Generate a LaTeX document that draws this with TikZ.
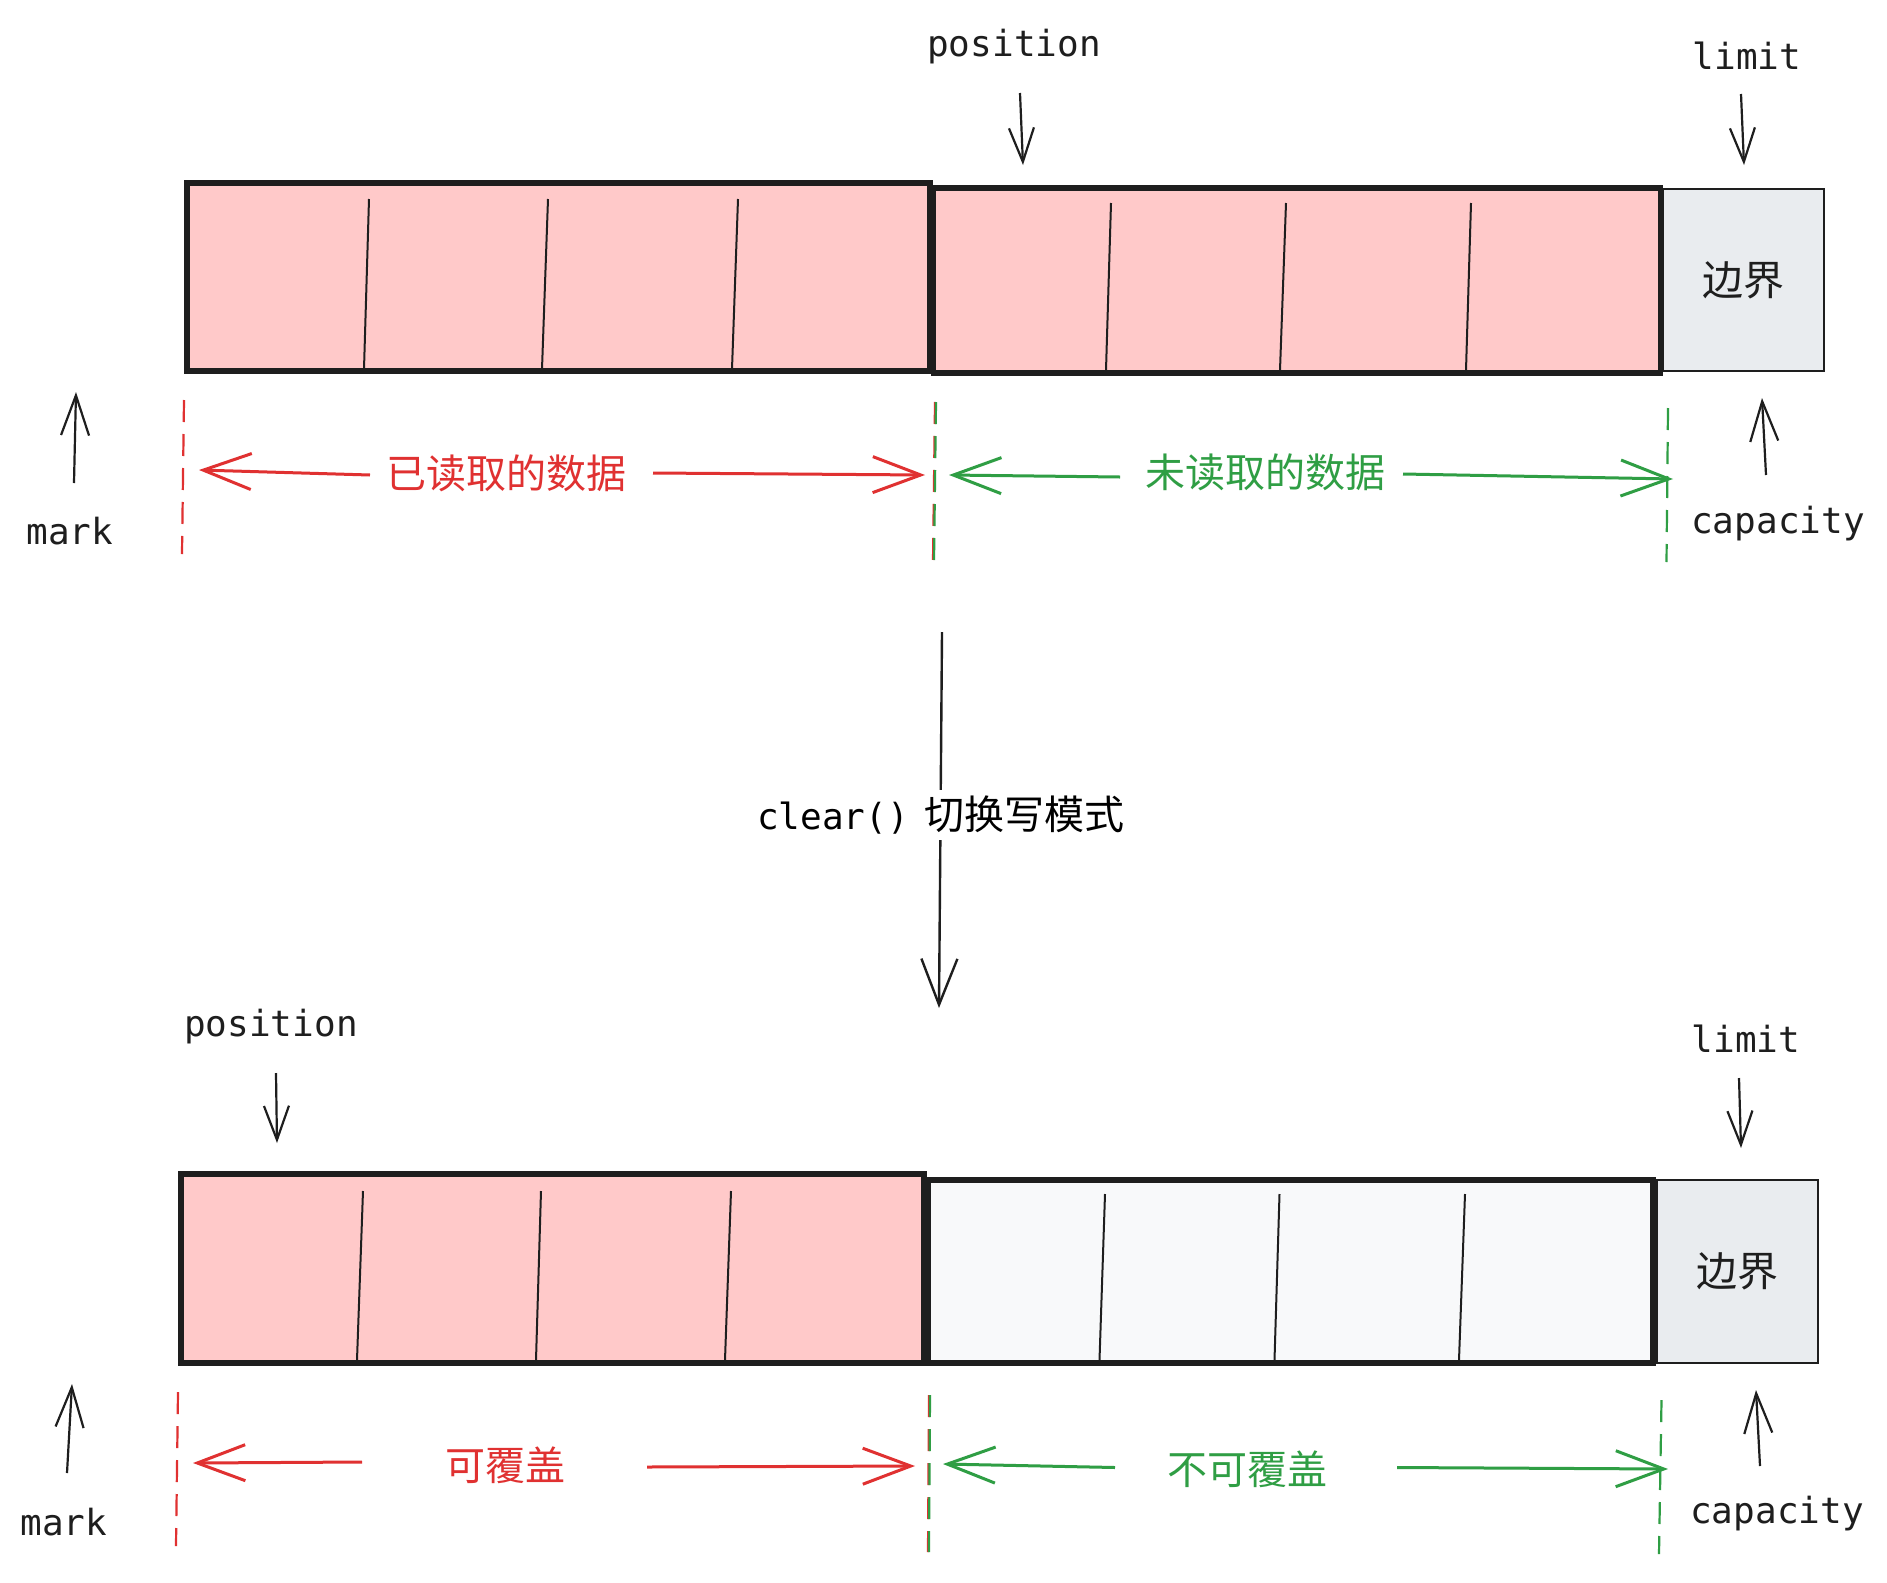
\documentclass[tikz,border=0pt]{standalone}
\usepackage{fontspec}
\newfontfamily\mono{DejaVu Sans Mono}
\newfontfamily\cjk{Noto Sans CJK SC}
\usetikzlibrary{arrows.meta}
\definecolor{ink}{HTML}{1E1E1E}
\definecolor{pinkfill}{HTML}{FFC9C9}
\definecolor{grayfill}{HTML}{E9ECEF}
\definecolor{lightfill}{HTML}{F8F9FA}
\definecolor{redc}{HTML}{E03131}
\definecolor{greenc}{HTML}{2F9E44}
\tikzset{
  cellbox/.style={draw=ink, line width=5.5pt, fill=pinkfill, inner sep=0pt, rectangle},
  edgebox/.style={draw=ink, line width=2.4pt, fill=grayfill, inner sep=0pt, rectangle,
    font=\cjk\fontsize{41}{44}\selectfont, text=ink},
  divider/.style={draw=ink, line width=2pt},
  lbl/.style={font=\mono\fontsize{36}{40}\selectfont, text=ink, inner sep=0pt, anchor=base},
  cnlbl/.style={font=\cjk\fontsize{40}{44}\selectfont, inner sep=0pt},
  ptr/.style={draw=ink, line width=2.2pt, -{Straight Barb[length=34pt,width=25pt]}},
  bigptr/.style={draw=ink, line width=2.4pt, -{Straight Barb[length=46pt,width=36pt]}},
  markptr/.style={draw=ink, line width=2.2pt, -{Straight Barb[length=40pt,width=28pt]}},
  redarr/.style={draw=redc, line width=3pt, -{Straight Barb[length=48pt,width=36pt]}},
  greenarr/.style={draw=greenc, line width=3pt, -{Straight Barb[length=48pt,width=36pt]}},
  reddash/.style={draw=redc, line width=2.2pt, dash pattern=on 22pt off 12pt},
  greendash/.style={draw=greenc, line width=2.2pt, dash pattern=on 22pt off 12pt},
}
\begin{document}
\begin{tikzpicture}[x=1pt,y=-1pt]
\useasboundingbox[fill=white] (0,0) rectangle (1887,1582);

% ================= TOP ROW =================
\node[cellbox, minimum width=743pt, minimum height=188pt] (t1) at (558.5,277) {};
\node[cellbox, minimum width=727pt, minimum height=185pt] (t2) at (1297,280.5) {};
\node[edgebox, minimum width=161pt, minimum height=182pt] (t3) at (1743.5,280) {边界};

\draw[divider] (369,199) -- (364,369);
\draw[divider] (548,199) -- (542,369);
\draw[divider] (738,199) -- (732,369);
\draw[divider] (1111,203) -- (1106,370);
\draw[divider] (1286,203) -- (1280,370);
\draw[divider] (1471,203) -- (1466,370);

\node[lbl] (tpos) at (1014,56) {position};
\node[lbl] (tlim) at (1747,69) {limit};
\node[lbl] (tmark) at (70,544) {mark};
\node[lbl] (tcap) at (1778,533) {capacity};

\coordinate (tposA) at (1020,93);
\coordinate (tposB) at (1023,165);
\draw[ptr] (tposA) -- (tposB);
\coordinate (tlimA) at (1741,94);
\coordinate (tlimB) at (1744,165);
\draw[ptr] (tlimA) -- (tlimB);
\coordinate (tmarkA) at (74,483);
\coordinate (tmarkB) at (76,392);
\draw[markptr] (tmarkA) -- (tmarkB);
\coordinate (tcapA) at (1766,475);
\coordinate (tcapB) at (1762,398);
\draw[markptr] (tcapA) -- (tcapB);

\coordinate (td1a) at (184,400); \coordinate (td1b) at (182,554);
\draw[reddash] (td1a) -- (td1b);
\coordinate (td2a) at (935,402); \coordinate (td2b) at (933,561);
\draw[reddash] (td2a) -- (td2b);
\draw[greendash] ([xshift=1pt]td2a) -- ([xshift=1pt]td2b);
\coordinate (td3a) at (1668,408); \coordinate (td3b) at (1666.5,562);
\draw[greendash] (td3a) -- (td3b);

\node[cnlbl, text=redc] (tread) at (506,473) {已读取的数据};
\coordinate (tr0) at (370,475);
\coordinate (tr1) at (199,470);
\coordinate (tr2s) at (653,473);
\coordinate (tr2) at (925,475);
\draw[redarr] (tr0) -- (tr1);
\draw[redarr] (tr2s) -- (tr2);

\node[cnlbl, text=greenc] (tunread) at (1265,472) {未读取的数据};
\coordinate (tg0) at (1120,477);
\coordinate (tg1) at (949,475);
\coordinate (tg2s) at (1403,474);
\coordinate (tg2) at (1673,479);
\draw[greenarr] (tg0) -- (tg1);
\draw[greenarr] (tg2s) -- (tg2);

% ================= MIDDLE =================
\coordinate (midA) at (942,632);
\coordinate (midB) at (939,1008);
\draw[bigptr] (midA) -- (midB);
\node[fill=white, inner xsep=2pt, inner ysep=6pt] (clr) at (941,815)
  {{\mono\fontsize{36}{40}\selectfont clear()}\hspace{16pt}{\cjk\fontsize{40}{44}\selectfont 切换写模式}};

% ================= BOTTOM ROW =================
\node[cellbox, minimum width=743pt, minimum height=189pt] (b1) at (552.5,1268.5) {};
\node[cellbox, fill=lightfill, minimum width=725pt, minimum height=183pt] (b2) at (1290.5,1271.5) {};
\node[edgebox, minimum width=161pt, minimum height=183pt] (b3) at (1737.5,1271.5) {边界};

\draw[divider] (363,1191) -- (357,1360);
\draw[divider] (541,1191) -- (536,1360);
\draw[divider] (731,1191) -- (725,1360);
\draw[divider] (1105,1194) -- (1099.5,1360);
\draw[divider] (1279.5,1194) -- (1274.5,1360);
\draw[divider] (1465,1194) -- (1459,1360);

\node[lbl] (bpos) at (271,1036) {position};
\node[lbl] (blim) at (1746,1052) {limit};
\node[lbl] (bmark) at (64,1535) {mark};
\node[lbl] (bcap) at (1777,1523) {capacity};

\coordinate (bposA) at (276,1073);
\coordinate (bposB) at (277,1143);
\draw[ptr] (bposA) -- (bposB);
\coordinate (blimA) at (1739,1078);
\coordinate (blimB) at (1741,1148);
\draw[ptr] (blimA) -- (blimB);
\coordinate (bmarkA) at (67,1473);
\coordinate (bmarkB) at (72,1384);
\draw[markptr] (bmarkA) -- (bmarkB);
\coordinate (bcapA) at (1760,1466);
\coordinate (bcapB) at (1756,1390);
\draw[markptr] (bcapA) -- (bcapB);

\coordinate (bd1a) at (178,1392); \coordinate (bd1b) at (176,1546);
\draw[reddash] (bd1a) -- (bd1b);
\coordinate (bd2a) at (929,1395); \coordinate (bd2b) at (928,1552);
\draw[reddash] (bd2a) -- (bd2b);
\draw[greendash] ([xshift=1pt]bd2a) -- ([xshift=1pt]bd2b);
\coordinate (bd3a) at (1661.5,1400); \coordinate (bd3b) at (1659,1554);
\draw[greendash] (bd3a) -- (bd3b);

\node[cnlbl, text=redc] (bover) at (505,1465) {可覆盖};
\coordinate (br0) at (362,1462);
\coordinate (br1) at (193,1463);
\coordinate (br2s) at (647,1467);
\coordinate (br2) at (915,1466);
\draw[redarr] (br0) -- (br1);
\draw[redarr] (br2s) -- (br2);

\node[cnlbl, text=greenc] (bnover) at (1247,1469) {不可覆盖};
\coordinate (bg0) at (1115,1467.5);
\coordinate (bg1) at (943,1464);
\coordinate (bg2s) at (1397,1467.5);
\coordinate (bg2) at (1668,1469);
\draw[greenarr] (bg0) -- (bg1);
\draw[greenarr] (bg2s) -- (bg2);
\end{tikzpicture}
\end{document}
